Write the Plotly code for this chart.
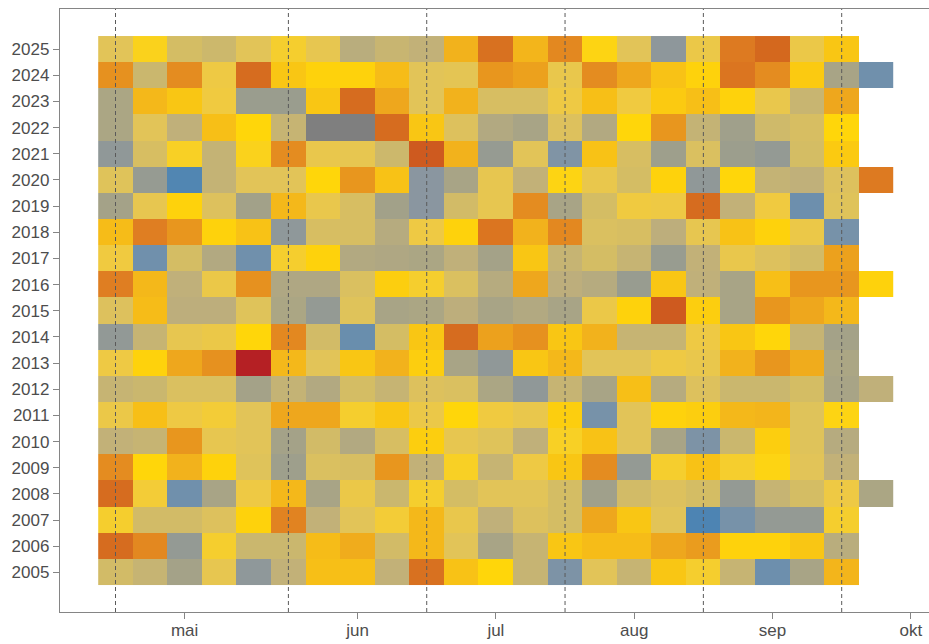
import plotly.graph_objects as go

# Weekly index values per season (one column per week, May-September).
# Leap years carry one extra week at the end.
v2025 = [58, 68, 53, 50, 58, 66, 60, 42, 48, 45, 80, 93, 79, 88, 69, 58, 23, 62, 91, 95, 62, 74]
v2024 = [86, 49, 87, 63, 94, 74, 71, 71, 77, 58, 59, 85, 83, 61, 87, 82, 75, 71, 92, 87, 73, 37, 12]
v2023 = [38, 78, 74, 64, 30, 30, 74, 94, 82, 58, 80, 54, 54, 63, 76, 64, 73, 76, 71, 61, 48, 82]
v2022 = [38, 58, 44, 76, 70, 47, None, None, 94, 74, 56, 40, 37, 56, 40, 70, 85, 46, 33, 51, 54, 70]
v2021 = [25, 54, 67, 46, 68, 87, 61, 60, 50, 96, 80, 28, 58, 17, 75, 54, 32, 55, 31, 27, 53, 73]
v2020 = [57, 28, 3, 46, 58, 58, 70, 85, 75, 20, 37, 60, 45, 69, 61, 53, 71, 25, 70, 46, 44, 56, 91]
v2019 = [35, 60, 71, 56, 34, 78, 61, 54, 34, 20, 52, 60, 87, 37, 53, 64, 63, 94, 45, 64, 11, 57]
v2018 = [77, 90, 85, 71, 75, 24, 54, 54, 41, 63, 71, 92, 80, 88, 55, 54, 43, 60, 75, 71, 62, 14]
v2017 = [64, 12, 53, 40, 12, 66, 71, 40, 39, 38, 44, 35, 74, 47, 53, 47, 29, 45, 61, 56, 52, 83]
v2016 = [90, 78, 44, 62, 86, 39, 39, 55, 72, 66, 55, 41, 82, 43, 41, 29, 74, 44, 37, 76, 85, 85, 71]
v2015 = [56, 77, 43, 43, 57, 38, 27, 57, 37, 38, 43, 37, 40, 37, 62, 71, 96, 72, 37, 85, 82, 78]
v2014 = [26, 47, 60, 62, 70, 88, 52, 10, 53, 74, 94, 83, 86, 74, 80, 47, 47, 63, 74, 70, 47, 35]
v2013 = [63, 71, 82, 86, 100, 78, 58, 74, 80, 72, 37, 25, 74, 78, 58, 58, 63, 61, 80, 85, 81, 38]
v2012 = [47, 49, 55, 55, 35, 46, 40, 53, 47, 56, 55, 38, 25, 47, 37, 76, 41, 56, 49, 49, 53, 37, 44]
v2011 = [62, 76, 63, 65, 58, 82, 82, 66, 74, 62, 70, 64, 61, 72, 14, 58, 71, 72, 78, 79, 57, 69]
v2010 = [45, 47, 85, 60, 58, 35, 52, 40, 54, 72, 60, 57, 44, 67, 75, 58, 37, 16, 49, 72, 57, 41]
v2009 = [87, 70, 80, 71, 57, 32, 55, 54, 85, 45, 67, 47, 63, 74, 87, 27, 66, 75, 66, 69, 58, 45]
v2008 = [94, 65, 12, 37, 63, 78, 37, 62, 49, 66, 53, 58, 58, 53, 33, 52, 56, 53, 27, 47, 53, 63, 38]
v2007 = [66, 52, 52, 56, 71, 89, 45, 58, 65, 78, 61, 44, 56, 53, 82, 74, 58, 2, 14, 27, 27, 66]
v2006 = [94, 88, 27, 66, 49, 49, 77, 81, 52, 78, 58, 37, 47, 74, 77, 77, 82, 84, 71, 71, 74, 42]
v2005 = [52, 47, 35, 60, 24, 45, 76, 76, 45, 93, 75, 70, 47, 16, 58, 47, 74, 66, 47, 11, 37, 79]

years = list(range(2005, 2026))
month_labels = ["mai", "jun", "jul", "aug", "sep", "okt"]

series = [v2005, v2006, v2007, v2008, v2009, v2010, v2011, v2012, v2013, v2014, v2015,
          v2016, v2017, v2018, v2019, v2020, v2021, v2022, v2023, v2024, v2025]

# layout constants (week-column positions)
n_weeks = max(len(s) for s in series)
weeks = list(range(1, n_weeks + 1))
month_ticks = [3, 8, 12, 16, 20, 24]
mid_month_weeks = [1, 6, 10, 14, 18, 22]

# pad short seasons with empty cells; missing values get their own grey layer
z = []
z_na = []
for s in series:
    row = list(s) + [None] * (n_weeks - len(s))
    z.append(row)
    z_na.append([1 if (i < len(s) and s[i] is None) else None for i in range(n_weeks)])

stops = [0, 12, 20, 25, 30, 37, 44, 50, 58, 64, 70, 75, 80, 85, 90, 95, 100]
palette = ["#4682b4", "#7090ac", "#8a96a0", "#909898", "#9a9d8e", "#a8a486", "#c0b07a",
           "#ccb86c", "#e2c458", "#f0ca40", "#ffd60a", "#f8c216", "#f2b21c", "#e8961e",
           "#df7e22", "#d4681e", "#b52024"]
colorscale = [[s / 100, c] for s, c in zip(stops, palette)]

fig = go.Figure()
fig.add_trace(go.Heatmap(
    x=weeks, y=years, z=z, zmin=0, zmax=100,
    colorscale=colorscale, showscale=False, xgap=0, ygap=0,
    hovertemplate="%{y}, uke %{x}: %{z}<extra></extra>",
))
fig.add_trace(go.Heatmap(
    x=weeks, y=years, z=z_na, zmin=0, zmax=1,
    colorscale=[[0, "#7f7f7f"], [1, "#7f7f7f"]], showscale=False,
    hoverinfo="skip",
))

for w in mid_month_weeks:
    fig.add_shape(type="line", xref="x", yref="paper", x0=w, x1=w, y0=0, y1=1,
                  line=dict(color="#5a5a5a", width=1, dash="4px,3px"), layer="above")

axis_font = dict(family="Liberation Sans, Arial, sans-serif", size=17, color="#4d4d4d")

fig.update_layout(
    width=929, height=644,
    margin=dict(l=60, r=0, t=9, b=32),
    paper_bgcolor="white", plot_bgcolor="white",
    showlegend=False,
    xaxis=dict(
        range=[-0.605, 24.525], tickvals=month_ticks, ticktext=month_labels,
        showgrid=False, zeroline=False, showline=True, mirror=True,
        linecolor="#858585", linewidth=1.3, ticks="outside", ticklen=6,
        tickcolor="#858585", tickwidth=1.3, tickfont=axis_font,
        ticklabelstandoff=-4,
    ),
    yaxis=dict(
        range=[2003.486, 2026.533], tickvals=years, ticktext=[str(y) for y in years],
        showgrid=False, zeroline=False, showline=True, mirror=False,
        linecolor="#858585", linewidth=1.3, ticks="outside", ticklen=6,
        tickcolor="#858585", tickwidth=1.3, tickfont=axis_font,
    ),
)

fig.write_html("out.html")
